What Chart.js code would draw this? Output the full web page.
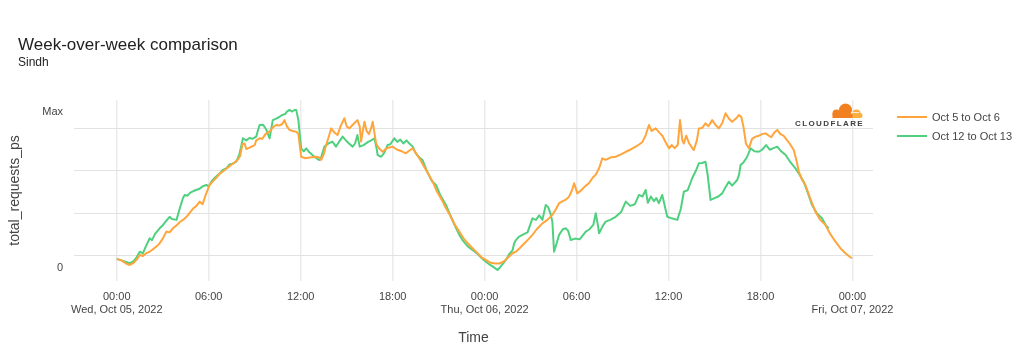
<!DOCTYPE html>
<html>
<head>
<meta charset="utf-8">
<script src="https://cdn.jsdelivr.net/npm/chart.js@4.4.0/dist/chart.umd.min.js"></script>
<style>
    html, body { margin: 0; padding: 0; background: #fff; }
    body { width: 1030px; height: 360px; position: relative; overflow: hidden;
        font-family: Helvetica, Arial, "Liberation Sans", sans-serif; }
    #wrap { position: absolute; left: 0; top: 0; width: 1030px; height: 360px; }
    .title { position: absolute; left: 18px; top: 36px; font-size: 17px; line-height: 17px; color: #222; }
    .subtitle { position: absolute; left: 18px; top: 56px; font-size: 12px; line-height: 12px; color: #222; }
    .legend { position: absolute; left: 897px; top: 107px; font-size: 11px; color: #444; }
    .legend .row { display: flex; align-items: center; height: 19px; }
    .legend .swatch { width: 30px; height: 2px; margin-right: 5px; }
    .cf { position: absolute; left: 795px; top: 103px; width: 72px; }
    .cf svg { position: absolute; left: 34px; top: 0; }
    .cf span { position: absolute; left: 0; top: 16px; font-size: 8px; font-weight: bold;
        letter-spacing: 1.4px; color: #404041; white-space: nowrap; }
</style>
</head>
<body>
<div id="wrap"><canvas id="chart" width="1030" height="360"></canvas></div>
<div class="title">Week-over-week comparison</div>
<div class="subtitle">Sindh</div>
<div class="cf">
    <svg width="34" height="15" viewBox="0 0 34 15">
        <circle cx="27.5" cy="10.5" r="4" fill="#faae40"/>
        <circle cx="31" cy="12.5" r="2.5" fill="#faae40"/>
        <rect x="23" y="10.5" width="9" height="4.5" fill="#faae40"/>
        <circle cx="16.5" cy="7" r="6.5" fill="#f38020"/>
        <circle cx="7.5" cy="10.5" r="4" fill="#f38020"/>
        <rect x="3.5" y="10.5" width="20" height="4.5" fill="#f38020"/>
        <path d="M22 9.6 L30 9.6" stroke="#fff" stroke-width="0.8"/>
    </svg>
    <span>CLOUDFLARE</span>
</div>
<div class="legend" id="legend"></div>
<script>
// hours since Wed Oct 05 00:00 (series 1) / Wed Oct 12 00:00 (series 2), values as % of max
const seriesNames = ['Oct 5 to Oct 6', 'Oct 12 to Oct 13'];
const seriesColors = ['#ffa53c', '#4fd07f'];

const week1Hours = [0, 0.3, 0.6, 0.85, 1.1, 1.3, 1.5, 1.7, 1.9, 2.15, 2.4, 2.6, 2.8, 3.0, 3.24, 3.45, 3.7, 3.9,
    4.1, 4.32, 4.55, 4.8, 5.0, 5.2, 5.41, 5.6, 5.8, 6.06, 6.3, 6.5, 6.7, 6.92, 7.1, 7.3, 7.5, 7.7, 7.88,
    8.05, 8.2, 8.34, 8.45, 8.6, 8.8, 9.0, 9.1, 9.32, 9.5, 9.7, 9.97, 10.2, 10.4, 10.6, 10.8, 10.94, 11.1,
    11.27, 11.5, 11.71, 11.85, 12.03, 12.3, 12.6, 13.0, 13.22, 13.33, 13.5, 13.66, 13.85, 13.99, 14.2, 14.4,
    14.6, 14.85, 15.0, 15.18, 15.4, 15.7, 15.85, 15.94, 16.05, 16.16, 16.3, 16.45, 16.6, 16.7, 16.92, 17.1,
    17.35, 17.6, 18.0, 18.3, 18.6, 18.87, 19.1, 19.31, 19.5, 19.74, 20.0, 20.3, 20.61, 20.9, 21.2, 21.48,
    21.8, 22.05, 22.35, 22.6, 22.9, 23.21, 23.5, 23.8, 24.08, 24.4, 24.7, 24.95, 25.2, 25.5, 25.82, 26.04,
    26.3, 26.6, 26.85, 27.12, 27.4, 27.77, 28.1, 28.42, 28.6, 28.86, 29.1, 29.3, 29.51, 29.7, 29.84, 30.05,
    30.3, 30.6, 30.81, 31.05, 31.25, 31.47, 31.68, 31.9, 32.2, 32.55, 32.9, 33.21, 33.5, 33.86, 34.1, 34.3,
    34.51, 34.72, 34.9, 35.16, 35.4, 35.6, 35.8, 36.03, 36.2, 36.4, 36.6, 36.75, 36.9, 37.0, 37.15, 37.35,
    37.55, 37.65, 37.85, 37.98, 38.2, 38.41, 38.6, 38.85, 39.05, 39.28, 39.5, 39.72, 39.93, 40.15, 40.4,
    40.6, 40.75, 40.9, 41.05, 41.24, 41.45, 41.68, 41.9, 42.1, 42.33, 42.55, 42.7, 42.9, 43.09, 43.3, 43.5,
    43.64, 43.9, 44.17, 44.35, 44.5, 44.7, 44.93, 45.2, 45.58, 45.9, 46.23, 46.55, 46.89, 47.2, 47.54, 47.8, 47.97];
const week1Values = [6, 5, 3, 2.1, 3.5, 5.5, 8.5, 7.8, 9.5, 10.6, 12.5, 14, 16, 19, 23.5, 23, 26, 27.5,
    29.5, 31, 33, 36, 38.5, 40, 42.7, 41, 47, 53.4, 56, 58, 60.5, 62, 63.5, 65, 66.5, 68, 69.4,
    72, 79.5, 80, 76.5, 77, 78, 79, 82, 83.3, 83, 86, 87.6, 90.5, 91.9, 91.5, 92.5, 95, 91,
    88.7, 88, 87.6, 86, 71.5, 70.5, 71, 71.5, 71, 69.4, 73, 79, 85, 89.7, 87, 85.4,
    91, 96.2, 91, 89.7, 92, 95, 91, 81.2, 88, 94, 88, 86, 90, 94, 80, 77,
    74.7, 77, 78, 76, 75, 73.7, 75.5, 76.9, 74, 70.5, 66, 61, 55.5, 49, 44, 38.5,
    33, 28, 23.5, 19.5, 16, 12.8, 10, 7, 5.3, 3.5, 3, 3, 4, 6.5, 9.6, 10.6,
    13, 16, 18.5, 21.4, 25, 28.8, 31, 34.2, 37, 41.7, 43, 44, 45.9, 50, 54.5, 48,
    50, 53, 54.5, 58, 60, 64.1, 70.5, 69.5, 71, 71.5, 73, 74.7, 76, 78, 79.5, 81,
    85.4, 91.9, 88, 89.7, 87, 85, 81, 76.9, 79, 77, 79, 95, 82, 80, 85, 80,
    77, 75.8, 82, 89.7, 90, 93, 91, 95, 92, 89.7, 93, 99.4, 96, 94, 96,
    98.3, 97, 90, 80, 76.9, 83, 84.4, 85, 86, 86.5, 85, 84, 87, 88.7, 86, 85,
    83.3, 80, 75.8, 69, 62, 57, 53.4, 46, 36.3, 31, 27.8, 22, 17, 13, 9.6, 7.5, 6.4];

const week2Hours = [0, 0.3, 0.6, 0.85, 1.1, 1.3, 1.5, 1.7, 1.9, 2.15, 2.3, 2.5, 2.8, 3.0, 3.2, 3.45, 3.6, 3.9,
    4.1, 4.32, 4.43, 4.6, 4.8, 5.0, 5.19, 5.4, 5.6, 5.84, 6.0, 6.2, 6.45, 6.7, 6.92, 7.15, 7.35, 7.55, 7.8,
    8.0, 8.23, 8.45, 8.65, 8.85, 9.1, 9.2, 9.32, 9.55, 9.75, 9.97, 10.18, 10.4, 10.6, 10.81, 11.0, 11.1,
    11.27, 11.45, 11.6, 11.71, 11.85, 12.03, 12.2, 12.36, 12.55, 12.77, 12.95, 13.2, 13.33, 13.55, 13.8,
    14.07, 14.3, 14.5, 14.74, 14.95, 15.15, 15.39, 15.55, 15.7, 15.85, 16.1, 16.4, 16.6, 16.81, 16.95,
    17.02, 17.25, 17.45, 17.67, 17.85, 18.11, 18.3, 18.5, 18.7, 18.9, 19.09, 19.31, 19.5, 19.74, 19.95,
    20.25, 20.55, 20.83, 21.1, 21.48, 21.8, 22.05, 22.35, 22.6, 22.9, 23.21, 23.5, 23.8, 24.08, 24.3,
    24.55, 24.84, 25.0, 25.2, 25.39, 25.6, 25.82, 25.93, 26.04, 26.25, 26.5, 26.8, 27.12, 27.35, 27.56,
    27.77, 27.99, 28.15, 28.3, 28.42, 28.53, 28.7, 28.86, 29.1, 29.3, 29.45, 29.62, 29.9, 30.2, 30.6,
    30.85, 31.1, 31.25, 31.4, 31.47, 31.7, 31.9, 32.2, 32.55, 32.9, 33.21, 33.5, 33.8, 34.07, 34.3, 34.51,
    34.65, 34.85, 35.05, 35.2, 35.37, 35.59, 35.8, 35.92, 36.2, 36.57, 36.8, 37.0, 37.25, 37.54, 37.76,
    37.98, 38.2, 38.41, 38.55, 38.74, 39.0, 39.25, 39.5, 39.72, 39.93, 40.15, 40.48, 40.6, 40.7, 40.9,
    41.13, 41.35, 41.6, 41.89, 42.1, 42.37, 42.6, 42.85, 43.09, 43.35, 43.64, 43.95, 44.28, 44.55, 44.82,
    45.1, 45.36, 45.7, 46.01, 46.23, 46.45];
const week2Values = [6, 5, 4, 3.2, 4.5, 7, 10.6, 9.5, 14, 19.2, 18, 22, 25.6, 27.5, 30, 33, 31.5, 31,
    38, 45, 47, 46.5, 48.5, 49.5, 50.2, 51, 52.5, 53.4, 52.5, 56, 58.5, 60.5, 63, 64, 66.5, 67, 68.3,
    73, 83.3, 82, 83.5, 83, 84.4, 88, 91.9, 92, 89, 83.3, 95, 96, 97, 98.3, 99, 100.5,
    101.5, 100.5, 101.5, 101.5, 95, 76.9, 75, 76.9, 74.5, 72.6, 71, 69.4, 71, 78, 80,
    81.2, 78, 81, 84.4, 82, 80, 78, 80, 85.4, 78, 79, 81, 82, 83.3, 77,
    72.6, 71.5, 74, 79, 79.5, 83.3, 81, 82.5, 80, 82, 80, 78, 74, 71, 69.4,
    62, 56, 53.4, 47, 40.6, 33, 27.5, 21.4, 17.5, 14, 11.7, 9.5, 6.5, 4.2, 2.5,
    1, -1.1, 0.5, 3, 5.3, 9, 11.5, 16, 18, 20.3, 21.5, 23, 32, 31, 34,
    31, 40.6, 39, 35, 29.9, 10.6, 16, 21.4, 25, 25.6, 24, 18.1, 19, 18.5, 23.5,
    25, 28, 35.3, 27, 22.4, 27, 29.9, 31, 33, 36, 42.7, 40, 41, 47, 46, 50.2,
    42, 46, 43, 45, 41.7, 47, 38, 33, 32, 31, 38, 49.1, 50, 57.7, 62,
    67.3, 67.5, 68.3, 60, 43.8, 45, 46, 48, 52, 55.5, 53, 56.6, 60, 66.2, 68,
    71.5, 76.9, 75, 74.7, 76, 79, 76, 77, 78, 75, 72.6, 68, 64.1, 60, 55.5,
    48, 40.6, 35, 32, 28, 25.6];

const xTickHours = [0, 6, 12, 18, 24, 30, 36, 42, 48];
const xTickLabels = [['00:00', 'Wed, Oct 05, 2022'], ['06:00'], ['12:00'], ['18:00'],
    ['00:00', 'Thu, Oct 06, 2022'], ['06:00'], ['12:00'], ['18:00'], ['00:00', 'Fri, Oct 07, 2022']];
const yTickValues = [0, 8.1, 35.3, 62.5, 89.7, 100];
const yTickLabels = ['0', '', '', '', '', 'Max'];
const yGridValues = [8.1, 35.3, 62.5, 89.7];

const toPoints = (hours, values) => hours.map((h, i) => ({ x: h, y: values[i] }));

document.getElementById('legend').innerHTML = seriesNames.map((name, i) =>
    `<div class="row"><div class="swatch" style="background:${seriesColors[i]}"></div>${name}</div>`).join('');

new Chart(document.getElementById('chart'), {
    type: 'line',
    data: {
        datasets: [
            { label: seriesNames[0], data: toPoints(week1Hours, week1Values), borderColor: seriesColors[0] },
            { label: seriesNames[1], data: toPoints(week2Hours, week2Values), borderColor: seriesColors[1] }
        ]
    },
    options: {
        responsive: false,
        animation: false,
        devicePixelRatio: 1,
        layout: { padding: { top: 100, right: 157, left: 0, bottom: 0 } },
        elements: {
            point: { radius: 0 },
            line: { borderWidth: 2, tension: 0, borderJoinStyle: 'round' }
        },
        plugins: { legend: { display: false }, tooltip: { enabled: false } },
        scales: {
            x: {
                type: 'linear',
                min: -2.79,
                max: 49.34,
                afterBuildTicks: s => { s.ticks = xTickHours.map(v => ({ value: v })); },
                afterFit: s => { s.height = 79; },
                ticks: {
                    autoSkip: false,
                    maxRotation: 0,
                    padding: 9,
                    color: '#444',
                    font: { size: 11, family: 'Helvetica, Arial, "Liberation Sans", sans-serif', lineHeight: 1.2 },
                    callback: (v, i) => xTickLabels[i]
                },
                grid: { color: '#ebebeb', lineWidth: 1.5, drawTicks: false },
                border: { display: false },
                title: {
                    display: true,
                    text: 'Time',
                    color: '#444',
                    font: { size: 14, family: 'Helvetica, Arial, "Liberation Sans", sans-serif' },
                    padding: { top: 0, bottom: 13 }
                }
            },
            y: {
                min: -8.2,
                max: 107.9,
                afterBuildTicks: s => { s.ticks = yTickValues.map(v => ({ value: v })); },
                afterFit: s => { s.width = 74; },
                ticks: {
                    autoSkip: false,
                    padding: 11,
                    color: '#444',
                    font: { size: 11, family: 'Helvetica, Arial, "Liberation Sans", sans-serif' },
                    callback: (v, i) => yTickLabels[i]
                },
                grid: {
                    drawTicks: false,
                    lineWidth: 1,
                    color: c => yGridValues.includes(c.tick.value) ? '#e2e2e2' : 'rgba(0,0,0,0)'
                },
                border: { display: false },
                title: {
                    display: true,
                    text: 'total_requests_ps',
                    color: '#444',
                    font: { size: 14, family: 'Helvetica, Arial, "Liberation Sans", sans-serif' },
                    padding: { top: 7, bottom: 0 }
                }
            }
        }
    }
});
</script>
</body>
</html>
